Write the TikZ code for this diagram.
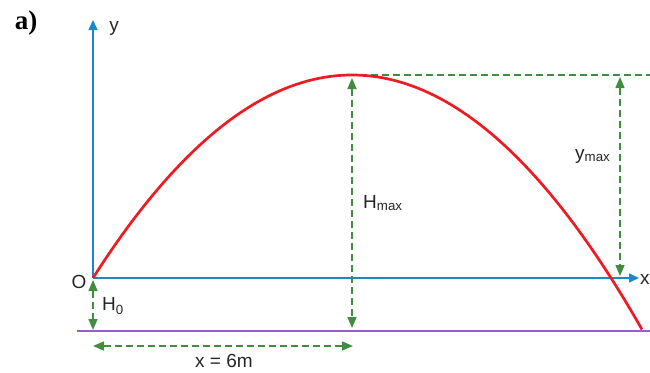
\documentclass[tikz,border=0pt]{standalone}
\usepackage{fontspec}
\setmainfont{Liberation Sans}
\newfontfamily\partfont{Liberation Serif}
\usetikzlibrary{arrows.meta, positioning}
\definecolor{axisblue}{RGB}{28,136,204}
\definecolor{dimgreen}{RGB}{66,140,66}
\definecolor{pathred}{RGB}{236,28,36}
\definecolor{groundviolet}{RGB}{146,96,200}
\tikzset{
  axis/.style={
    draw=axisblue, line width=1.5pt,
    -{Triangle[width=9pt, length=10pt]}
  },
  dimline/.style={
    draw=dimgreen, line width=1.5pt, dash pattern=on 7pt off 4pt,
    % both ends
    {Triangle[width=9pt, length=11pt]}-{Triangle[width=9pt, length=11pt]}
  },
  guide/.style={draw=dimgreen, line width=1.3pt, dash pattern=on 7pt off 4pt},
  lbl/.style={font=\fontsize{19}{22}\selectfont, inner sep=0pt, text=black!85}
}
\begin{document}
\begin{tikzpicture}[x=1pt, y=-1pt]
  \useasboundingbox (0,0) rectangle (650,372);
  % key points
  \coordinate (O) at (93,278);
  \coordinate (ytip) at (93,20);
  \coordinate (xtip) at (639,278);
  \coordinate (apex) at (352,75);
  \coordinate (groundL) at (77,331);
  \coordinate (groundR) at (650,331);
  % ground and axes
  \draw[groundviolet, line width=1.3pt] (groundL) -- (groundR);
  \draw[axis] (O) -- (ytip);
  \draw[axis] (O) -- (xtip);
  % dimensions
  \draw[guide] ([xshift=8pt]apex) -- (650,75);
  \draw[dimline] (352,78) -- (352,328);
  \draw[dimline] (620,77) -- (620,276);
  \draw[dimline] (93,280) -- (93,330);
  \draw[dimline] (93,346) -- (353,346);
  % trajectory
  \draw[pathred, line width=2.7pt] plot[domain=93:642, samples=120]
    (\x, {75+30.26*((\x-352)/100)^2});
  % labels
  \node[font=\partfont\bfseries\fontsize{27}{30}\selectfont, inner sep=0pt] (part) at (26,23) {a)};
  \node[lbl] (ylabel) at (114,28) {y};
  \node[lbl, anchor=west] (xlabel) at (640,279) {x};
  \node[lbl] (olabel) at (79,282) {O};
  \node[lbl, anchor=west] (hzero) at (102,306) {H\textsubscript{0}};
  \node[lbl, anchor=west] (hmax) at (363,203) {H\textsubscript{max}};
  \node[lbl, anchor=west] (ymax) at (575,156) {y\textsubscript{max}};
  \node[lbl] (range) at (224,361) {x = 6m};
\end{tikzpicture}
\end{document}
